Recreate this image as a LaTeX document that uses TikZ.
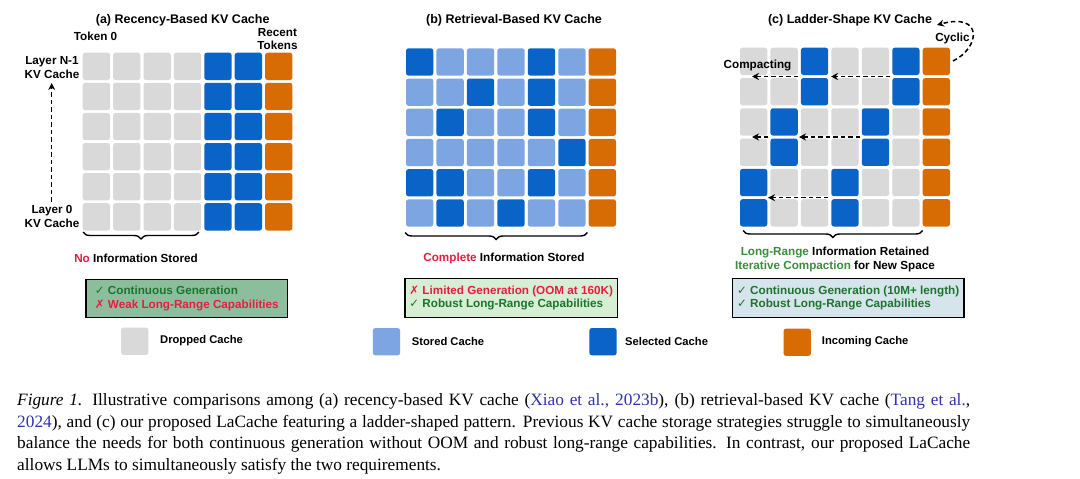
\documentclass[tikz,border=0pt]{standalone}
\usepackage{fontspec}
\setmainfont{Liberation Serif}
\setsansfont{Liberation Sans}
\newfontfamily\symfont{DejaVu Sans}
\usetikzlibrary{arrows.meta,decorations.pathreplacing}
\definecolor{cgray}{RGB}{217,217,217}
\definecolor{cstored}{RGB}{125,165,225}
\definecolor{csel}{RGB}{10,100,200}
\definecolor{corange}{RGB}{216,108,4}
\definecolor{tred}{RGB}{232,28,64}
\definecolor{tgreen}{RGB}{30,115,45}
\definecolor{lgreen}{RGB}{60,140,60}
\definecolor{boxA}{RGB}{140,190,158}
\definecolor{boxB}{RGB}{214,238,212}
\definecolor{boxC}{RGB}{214,228,236}
\definecolor{citeblue}{RGB}{50,50,170}
\colorlet{colG}{cgray}
\colorlet{colt}{cstored}
\colorlet{colS}{csel}
\colorlet{colO}{corange}
\tikzset{
  cell/.style={minimum width=27.3pt, minimum height=27.3pt, inner sep=0pt, rounded corners=2.5pt, draw=none},
  lbl/.style={font=\sffamily\bfseries\fontsize{11.7pt}{13.6pt}\selectfont, inner sep=0pt, align=center},
  ttl/.style={font=\sffamily\bfseries\fontsize{12.5pt}{14pt}\selectfont, inner sep=0pt},
  leg/.style={font=\sffamily\bfseries\fontsize{11.2pt}{13pt}\selectfont, inner sep=0pt, anchor=west},
  dasharrow/.style={dash pattern=on 4.5pt off 3pt, line width=1.5pt, -{Stealth[length=7pt,width=7pt]}},
  bracestyle/.style={decorate, decoration={brace, mirror, amplitude=7pt}, line width=1.4pt},
  infobox/.style={draw=black, line width=1.5pt, align=left, inner sep=0pt, font=\sffamily\bfseries\fontsize{11.7pt}{13.6pt}\selectfont},
  capline/.style={font=\fontsize{17.3pt}{21.7pt}\selectfont, inner sep=0pt, anchor=base west},
}
\begin{document}
\begin{tikzpicture}[x=1pt,y=-1pt]
\fill[white] (0,0) rectangle (1080,479);
\useasboundingbox (0,0) rectangle (1080,479);
% titles
\node[ttl] (ta) at (182.7,20.7) {(a) Recency-Based KV Cache};
\node[ttl] (tb) at (514,20.7) {(b) Retrieval-Based KV Cache};
\node[ttl] (tc) at (850,20.7) {(c) Ladder-Shape KV Cache};
% panel a
\foreach \row [count=\r from 0] in {{G,G,G,G,S,S,O},{G,G,G,G,S,S,O},{G,G,G,G,S,S,O},{G,G,G,G,S,S,O},{G,G,G,G,S,S,O},{G,G,G,G,S,S,O}}{
  \foreach \k [count=\c from 0] in \row {
    \node[cell, fill=col\k] (a-\r-\c) at ({82.7+13.65+30.4*\c},{52.7+13.65+30.1*\r}) {};
  }
}
% panel b
\foreach \row [count=\r from 0] in {{S,t,t,t,S,t,O},{t,t,S,t,S,t,O},{t,S,t,t,S,t,O},{t,t,t,t,t,S,O},{S,S,t,t,S,t,O},{t,S,t,S,t,t,O}}{
  \foreach \k [count=\c from 0] in \row {
    \node[cell, fill=col\k] (b-\r-\c) at ({406+13.65+30.45*\c},{48.3+13.65+30.2*\r}) {};
  }
}
% panel c
\foreach \row [count=\r from 0] in {{G,G,S,G,G,S,O},{G,G,S,G,G,S,O},{G,S,G,G,S,G,O},{G,S,G,G,S,G,O},{S,G,G,S,G,G,O},{S,G,G,S,G,G,O}}{
  \foreach \k [count=\c from 0] in \row {
    \node[cell, fill=col\k] (c-\r-\c) at ({740+13.65+30.45*\c},{47.7+13.65+30.3*\r}) {};
  }
}
% panel a labels
\node[lbl] (tok0) at (95.5,36) {Token 0};
\node[lbl] (rect) at (277.5,39.2) {Recent\\Tokens};
\node[lbl] (layN) at (52,67.5) {Layer N-1\\KV Cache};
\node[lbl] (lay0) at (52,216.3) {Layer 0\\KV Cache};
\coordinate (la0) at (51.7,201.5);
\coordinate (laN) at (51.7,83);
\draw[dasharrow] (la0) -- (laN);
\draw[bracestyle] (83,232) -- (199,232);
\node[lbl] (noinfo) at (136,258.3) {\textcolor{tred}{No} Information Stored};
% panel b labels
\draw[bracestyle] (405,232.5) -- (587.3,232.5);
\node[lbl] (cplinfo) at (504,258.3) {\textcolor{tred}{Complete} Information Stored};
% panel c labels
\draw[bracestyle] (743,230.5) -- (922.7,230.5);
\node[lbl] (lr1) at (835,252.7) {\textcolor{lgreen}{Long-Range} Information Retained};
\node[lbl] (lr2) at (835,266.3) {\textcolor{lgreen}{Iterative Compaction} for New Space};
\node[lbl] (cmp) at (757.5,65.7) {Compacting};
\node[lbl] (cyc) at (952.5,38.5) {Cyclic};
\coordinate (p1s) at (890,76.5); \coordinate (p1e) at (831,76.5);
\coordinate (p2s) at (798,76.5); \coordinate (p2e) at (752,76.5);
\coordinate (p3s) at (860,137); \coordinate (p3e) at (799,137);
\coordinate (p4s) at (768,137); \coordinate (p4e) at (752,137);
\coordinate (p5s) at (828,197.7); \coordinate (p5e) at (768,197.7);
\draw[dasharrow] (p1s) -- (p1e);
\draw[dasharrow] (p2s) -- (p2e);
\draw[dasharrow] (p3s) -- (p3e);
\draw[dasharrow] (p4s) -- (p4e);
\draw[dasharrow] (p5s) -- (p5e);
\coordinate (cy1) at (953,61);
\coordinate (cy2) at (937,25);
\draw[dasharrow] (cy1) .. controls (980,48) and (984,12) .. (cy2);
% info boxes
\node[infobox, fill=boxA, minimum width=201.7pt, minimum height=38.4pt] (boxa) at (186.8,298.5)
  {\textcolor{tgreen}{{\symfont ✓} Continuous Generation}\\\textcolor{tred}{{\symfont ✗} Weak Long-Range Capabilities}};
\node[infobox, fill=boxB, minimum width=212.3pt, minimum height=39.4pt] (boxb) at (511.2,298)
  {\textcolor{tred}{{\symfont ✗} Limited Generation (OOM at 160K)}\\\textcolor{tgreen}{{\symfont ✓} Robust Long-Range Capabilities}};
\node[infobox, fill=boxC, minimum width=231.7pt, minimum height=39.4pt] (boxc) at (848.2,298)
  {\textcolor{tgreen}{{\symfont ✓} Continuous Generation (10M+ length)}\\\textcolor{tgreen}{{\symfont ✓} Robust Long-Range Capabilities}};
% legend
\node[cell, fill=cgray] (lg1) at (134.7,341.2) {};
\node[leg] (lt1) at (160,341) {Dropped Cache};
\node[cell, fill=cstored] (lg2) at (386.5,341.7) {};
\node[leg] (lt2) at (411.7,341.5) {Stored Cache};
\node[cell, fill=csel] (lg3) at (603,341.7) {};
\node[leg] (lt3) at (625,341.5) {Selected Cache};
\node[cell, fill=corange] (lg4) at (797.2,342.3) {};
\node[leg] (lt4) at (821.7,341.5) {Incoming Cache};
% caption
\node[capline] (cap1) at (17,405.5) {\makebox[953pt][s]{\textit{Figure 1.} Illustrative comparisons among (a) recency-based KV cache (\textcolor{citeblue}{Xiao et al., 2023b}), (b) retrieval-based KV cache (\textcolor{citeblue}{Tang et al.},}};
\node[capline] (cap2) at (17,427) {\makebox[953pt][s]{\textcolor{citeblue}{2024}), and (c) our proposed LaCache featuring a ladder-shaped pattern. Previous KV cache storage strategies struggle to simultaneously}};
\node[capline] (cap3) at (17,448.6) {\makebox[953pt][s]{balance the needs for both continuous generation without OOM and robust long-range capabilities. In contrast, our proposed LaCache}};
\node[capline] (cap4) at (17,470.2) {allows LLMs to simultaneously satisfy the two requirements.};
\end{tikzpicture}
\end{document}
